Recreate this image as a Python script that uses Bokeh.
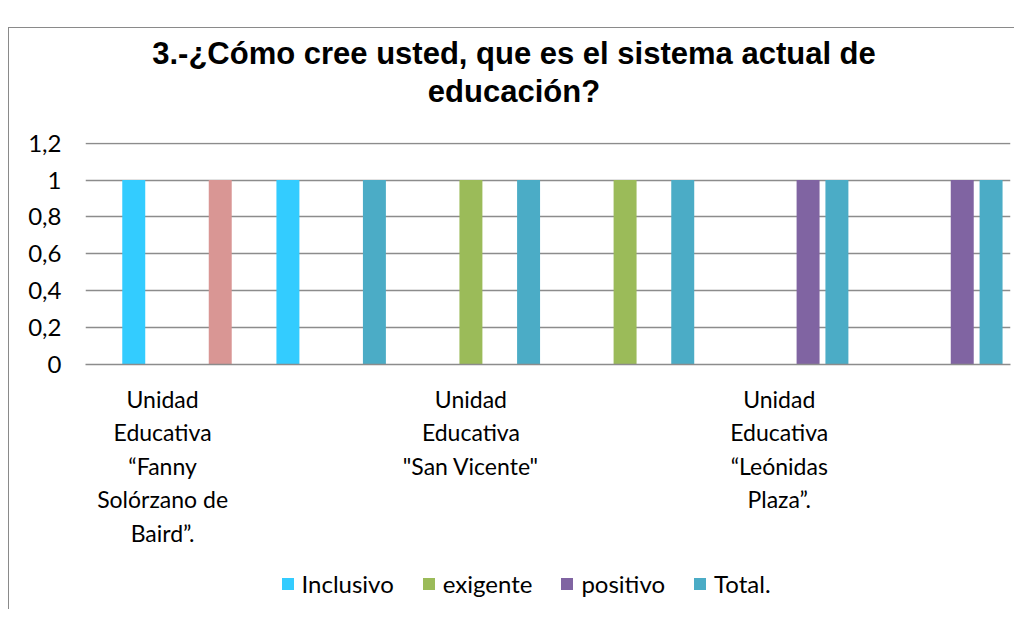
from bokeh.plotting import figure
from bokeh.layouts import column
from bokeh.models import ColumnDataSource, Range1d, FixedTicker, Legend, LegendItem
from bokeh.transform import dodge
from bokeh.core.properties import value
from bokeh.embed import file_html
from bokeh.resources import INLINE

# ---- data ----
title_lines = ["3.-¿Cómo cree usted, que es el sistema actual de", "educación?"]
category_index = [0, 1, 2, 3, 4, 5]
category_labels = [
    "Unidad\nEducativa\n“Fanny\nSolórzano de\nBaird”.",
    "",
    "Unidad\nEducativa\n\"San Vicente\"",
    "",
    "Unidad\nEducativa\n“Leónidas\nPlaza”.",
    "",
]
series_names = ["Inclusivo", "exigente", "positivo", "Total."]
inclusivo = [1, 1, 0, 0, 0, 0]
exigente = [0, 0, 1, 1, 0, 0]
positivo = [0, 0, 0, 0, 1, 1]
total = [1, 1, 1, 1, 1, 1]
series_colors = ["#33CCFF", "#9BBB59", "#8064A2", "#4BACC6"]
total_point_colors = ["#D99694", "#4BACC6", "#4BACC6", "#4BACC6", "#4BACC6", "#4BACC6"]
y_ticks = [0, 0.2, 0.4, 0.6, 0.8, 1.0, 1.2]
y_tick_labels = ["0", "0,2", "0,4", "0,6", "0,8", "1", "1,2"]

FONT = "Lato"
TITLE_FONT = "Liberation Sans"
GRID = "#8C8C8C"
W = 1005

# ---- title strip (frame is aligned with the chart frame) ----
tf = figure(width=W, height=100, x_range=Range1d(85.5, 1010.5), y_range=Range1d(100, 0),
            x_axis_type=None, y_axis_type=None, output_backend="svg",
            toolbar_location=None, min_border=0)
tf.outline_line_color = None
tf.xgrid.visible = False
tf.ygrid.visible = False
tf.text(x=[514, 514], y=[24.5, 62.5], text=title_lines, text_align="center",
        text_baseline="alphabetic", text_font=value(TITLE_FONT), text_font_style="bold",
        text_font_size="31px", text_color="black")

# ---- main chart ----
p = figure(width=W, height=431, x_range=Range1d(-0.5, 5.5), y_range=Range1d(0, 1.204),
           output_backend="svg", toolbar_location=None,
           min_border_left=76, min_border_right=4, min_border_top=14, min_border_bottom=195)
p.outline_line_color = None
p.background_fill_color = "white"
p.border_fill_color = "white"

src = ColumnDataSource(dict(x=category_index, inclusivo=inclusivo, exigente=exigente,
                            positivo=positivo, total=total, total_color=total_point_colors))

bw = 0.149
step = 0.187
p.vbar(x=dodge('x', -step), top='inclusivo', width=bw, source=src,
       fill_color=series_colors[0], line_color=None)
p.vbar(x=dodge('x', 0.0), top='exigente', width=bw, source=src,
       fill_color=series_colors[1], line_color=None)
p.vbar(x=dodge('x', step), top='positivo', width=bw, source=src,
       fill_color=series_colors[2], line_color=None)
p.vbar(x=dodge('x', 2 * step), top='total', width=bw, source=src,
       fill_color='total_color', line_color=None)

p.xgrid.visible = False
p.ygrid.ticker = FixedTicker(ticks=y_ticks)
p.ygrid.grid_line_color = GRID
p.ygrid.grid_line_width = 1.5

p.yaxis.ticker = FixedTicker(ticks=y_ticks)
p.yaxis.major_label_overrides = {t: l for t, l in zip(y_ticks, y_tick_labels)}
p.yaxis.axis_line_color = None
p.yaxis.major_tick_line_color = None
p.yaxis.minor_tick_line_color = None
p.yaxis.major_label_text_font = FONT
p.yaxis.major_label_text_font_size = "24px"
p.yaxis.major_label_text_color = "black"
p.yaxis.major_label_standoff = 18

shown = [i for i, l in zip(category_index, category_labels) if l]
p.xaxis.ticker = FixedTicker(ticks=shown)
p.xaxis.major_label_overrides = {i: l for i, l in zip(category_index, category_labels) if l}
p.xaxis.axis_line_color = GRID
p.xaxis.axis_line_width = 1.5
p.xaxis.major_tick_line_color = None
p.xaxis.minor_tick_line_color = None
p.xaxis.major_label_text_font = FONT
p.xaxis.major_label_text_font_size = "23px"
p.xaxis.major_label_text_color = "black"
p.xaxis.major_label_standoff = 14

# ---- legend strip (legend swatches use the series colours) ----
lf = figure(width=W, height=50, x_range=Range1d(0, 1), y_range=Range1d(0, 1),
            x_axis_type=None, y_axis_type=None, output_backend="svg",
            toolbar_location=None, min_border=0)
lf.outline_line_color = None
lf.xgrid.visible = False
lf.ygrid.visible = False
items = []
for name, color in zip(series_names, series_colors):
    r = lf.vbar(x=[-10], top=[0], width=0.1, fill_color=color, line_color=None)
    items.append(LegendItem(label=name, renderers=[r]))
legend = Legend(items=items, orientation="horizontal", location=(194.5, 11),
                glyph_width=15, glyph_height=15, label_standoff=7, spacing=27,
                label_text_font=FONT, label_text_font_size="24px", label_text_color="black",
                border_line_color=None, background_fill_alpha=0, padding=0, margin=0)
lf.add_layout(legend, "center")

layout = column(tf, p, lf, spacing=0)
layout.styles = {"margin-top": "27px", "margin-left": "8px",
                 "border-top": "1.5px solid #8A8A8A", "border-left": "1.5px solid #8A8A8A"}

open("out.html", "w").write(file_html(layout, INLINE))
